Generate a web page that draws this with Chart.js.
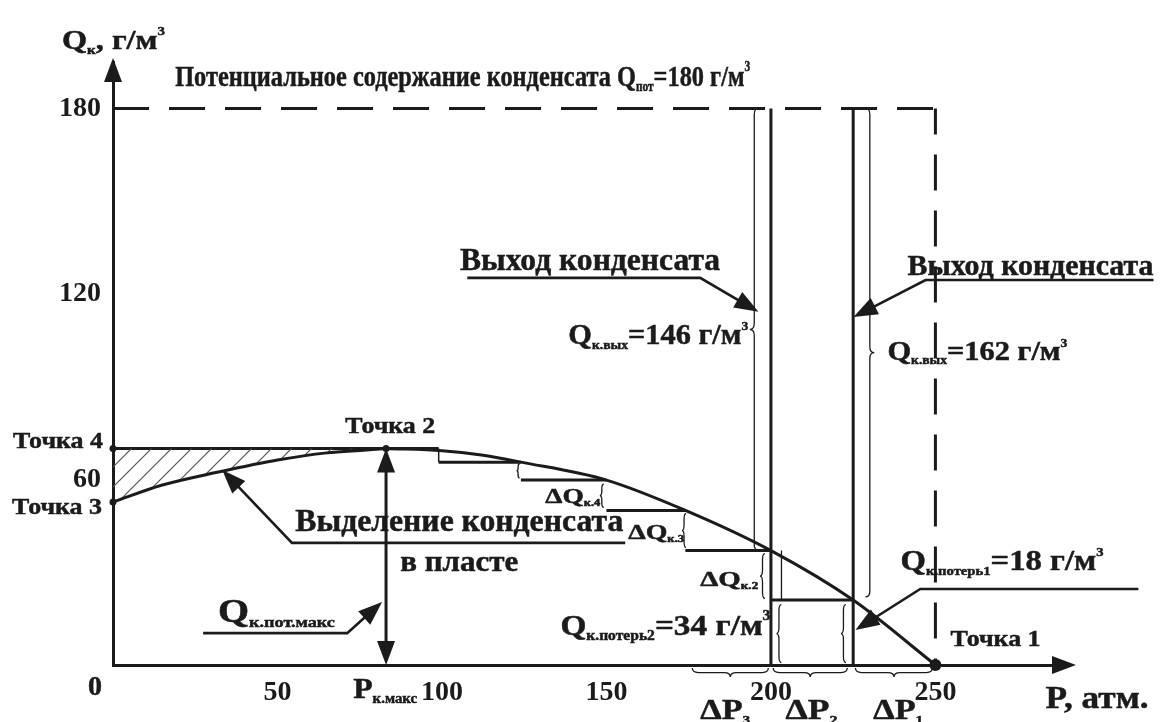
<!DOCTYPE html>
<html>
<head>
<meta charset="utf-8">
<script src="https://cdn.jsdelivr.net/npm/chart.js@4.4.1/dist/chart.umd.min.js"></script>
<style>
html, body { margin: 0; padding: 0; background: #fff; }
#wrap { width: 1171px; height: 722px; }
</style>
</head>
<body>
<div id="wrap"><canvas id="chart"></canvas></div>
<script>
// кривая Qк(P): левая ветвь до Точки 2 и правая ветвь до Точки 1
var leftP = [0, 15, 32, 50, 65, 77, 83];
var leftQ = [52.7, 58.2, 62.4, 66.3, 68.6, 69.5, 70];
var rightP = [83, 100, 112, 124, 150, 174, 200, 225, 250];
var rightQ = [70, 69.3, 67.9, 65.6, 59.8, 50, 37, 21, 0];

// ступени ΔQ
var stepFrom = [99, 124, 150, 174, 200];
var stepTo = [124, 150, 174, 200, 225];
var stepQ = [65.6, 59.8, 50, 37, 21];

// Точка 1, 2, 3, 4
var pointP = [250, 83, 0, 0];
var pointQ = [0, 70, 52.7, 70];

var qPot = 180, pDew = 250, pStepA = 200, pStepB = 225, pMax = 83, qMax = 70;

var xTicks = [50, 100, 150, 200, 250];
var yTicks = [60, 120, 180];

var INK = '#1b1b1b';
var FONT = '"Liberation Serif", "Times New Roman", serif';

function xy(ps, qs) {
  return ps.map(function (p, i) { return { x: p, y: qs[i] }; });
}

var steps = [];
for (var i = 0; i < stepQ.length; i++) {
  steps.push({ x: stepFrom[i], y: stepQ[i] });
  steps.push({ x: stepTo[i], y: stepQ[i] });
  steps.push({ x: stepTo[i], y: null });
}

// штриховка
var hatchCanvas = document.createElement('canvas');
hatchCanvas.width = 20; hatchCanvas.height = 20;
var hc = hatchCanvas.getContext('2d');
hc.strokeStyle = '#555';
hc.lineWidth = 1.2;
[[0, 20, 20, 0], [-10, 10, 10, -10], [10, 30, 30, 10]].forEach(function (l) {
  hc.beginPath(); hc.moveTo(l[0], l[1]); hc.lineTo(l[2], l[3]); hc.stroke();
});
var hatch = hc.createPattern(hatchCanvas, 'repeat');

// подписи: текст (_{} нижний индекс, ^{} верхний), P, Q, ширина, кегль
var labels = [
  ['Q_{к}, г/м^{3}', -15.5, 201.5, 103, 28],
  ['Потенциальное содержание конденсата Q_{пот}=180 г/м^{3}', 18.9, 189.8, 575, 30],
  ['Выход конденсата', 105.5, 130.3, 260, 31],
  ['Q_{к.вых}=146 г/м^{3}', 138.4, 106.1, 180, 29],
  ['Выход конденсата', 241.5, 128.7, 246, 30],
  ['Q_{к.вых}=162 г/м^{3}', 235.4, 100.9, 180, 27],
  ['Q_{к.потерь1}=18 г/м^{3}', 239.4, 33.0, 203, 29],
  ['Точка 1', 254.6, 8.1, 90, 23],
  ['Q_{к.потерь2}=34 г/м^{3}', 136.0, 12.3, 210, 30],
  ['ΔQ_{к.4}', 131.4, 54.3, 55, 22],
  ['ΔQ_{к.3}', 156.6, 42.7, 56, 22],
  ['ΔQ_{к.2}', 178.5, 27.5, 58, 22],
  ['Выделение конденсата', 55.4, 45.9, 328, 31],
  ['в пласте', 87.3, 33.0, 118, 30],
  ['Q_{к.пот.макс}', 31.9, 16.8, 117, 33],
  ['Точка 2', 70.6, 77.0, 90, 24],
  ['Точка 4', -30.4, 72.1, 90, 24],
  ['Точка 3', -30.7, 50.8, 90, 24],
  ['0', -7.6, -7.4, 14, 28],
  ['P_{к.макс}', 73.0, -8.1, 64, 30],
  ['ΔP_{3}', 178.5, -15.2, 50, 29],
  ['ΔP_{2}', 204.4, -15.2, 52, 29],
  ['ΔP_{1}', 231.1, -15.2, 50, 29],
  ['P, атм.', 283.5, -11.3, 103, 32]
];

// стрелки-выноски: ломаная, последняя точка - остриё
var pointers = [
  [[107.7, 125.2], [178.5, 125.2], [196.2, 114.2]],
  [[316.3, 124.5], [247, 124.5], [225.1, 112.5]],
  [[311.7, 24.6], [245.4, 24.6], [225.7, 11.3]],
  [[155.7, 39.5], [54.4, 39.5], [33.2, 63.1]],
  [[27.4, 10.3], [71.2, 10.3], [81.8, 20.4]]
];

// фигурные скобки: P1, Q1, P2, Q2, выгиб (px)
var braces = [
  [196.3, 180, 196.3, 37, 9],
  [228.7, 180, 228.7, 22, -9],
  [123.6, 65, 123.6, 60.5, 3],
  [149.2, 58.5, 149.2, 51, 4],
  [174.2, 49, 174.2, 38, 4],
  [198.2, 36, 198.2, 21.5, 5],
  [203.2, 19.5, 203.2, 0.8, 5],
  [222.8, 19.5, 222.8, 0.8, 5],
  [176.1, -1, 199.2, -1, 9],
  [200.7, -1, 223.2, -1, 9],
  [225.7, -1, 249.1, -1, 9]
];

function parseRich(s) {
  var out = [];
  s.split(/(_\{[^}]*\}|\^\{[^}]*\})/).forEach(function (t) {
    if (!t) return;
    if (t[0] === '_') out.push([t.slice(2, -1), 'sub']);
    else if (t[0] === '^') out.push([t.slice(2, -1), 'sup']);
    else out.push([t, '']);
  });
  return out;
}

// текст заданного кегля, сжатый/растянутый по ширине
function drawRich(ctx, s, x, y, width, size) {
  var parts = parseRich(s);
  function fontFor(mode) { return 'bold ' + Math.round(mode ? size * 0.45 : size) + 'px ' + FONT; }
  var w = 0;
  parts.forEach(function (p) { ctx.font = fontFor(p[1]); w += ctx.measureText(p[0]).width; });
  var k = width / w;
  ctx.save();
  ctx.translate(x, y);
  ctx.scale(k, 1);
  ctx.textBaseline = 'middle';
  ctx.textAlign = 'left';
  ctx.lineWidth = 0.5;
  var cx = 0;
  parts.forEach(function (p) {
    ctx.font = fontFor(p[1]);
    var dy = p[1] === 'sub' ? size * 0.3 : (p[1] === 'sup' ? -size * 0.35 : 0);
    ctx.fillText(p[0], cx, dy);
    ctx.strokeText(p[0], cx, dy);
    cx += ctx.measureText(p[0]).width;
  });
  ctx.restore();
}

function head(ctx, x1, y1, x2, y2, len, half) {
  var a = Math.atan2(y2 - y1, x2 - x1);
  var c = Math.cos(a), s = Math.sin(a);
  ctx.beginPath();
  ctx.moveTo(x2, y2);
  ctx.lineTo(x2 - len * c + half * s, y2 - len * s - half * c);
  ctx.lineTo(x2 - len * c - half * s, y2 - len * s + half * c);
  ctx.closePath();
  ctx.fill();
}

function brace(ctx, x1, y1, x2, y2, depth) {
  var len = Math.hypot(x2 - x1, y2 - y1);
  var dx = (x2 - x1) / len, dy = (y2 - y1) / len;
  var nx = -dy * depth, ny = dx * depth;
  var w = Math.min(6, len / 5);
  var mx = (x1 + x2) / 2, my = (y1 + y2) / 2;
  ctx.beginPath();
  ctx.moveTo(x1, y1);
  ctx.quadraticCurveTo(x1 + nx / 2, y1 + ny / 2, x1 + nx / 2 + dx * w, y1 + ny / 2 + dy * w);
  ctx.lineTo(mx + nx / 2 - dx * w, my + ny / 2 - dy * w);
  ctx.quadraticCurveTo(mx + nx / 2, my + ny / 2, mx + nx, my + ny);
  ctx.quadraticCurveTo(mx + nx / 2, my + ny / 2, mx + nx / 2 + dx * w, my + ny / 2 + dy * w);
  ctx.lineTo(x2 + nx / 2 - dx * w, y2 + ny / 2 - dy * w);
  ctx.quadraticCurveTo(x2 + nx / 2, y2 + ny / 2, x2, y2);
  ctx.stroke();
}

var annotations = {
  id: 'annotations',
  afterDraw: function (chart) {
    var ctx = chart.ctx, xs = chart.scales.x, ys = chart.scales.y;
    function X(p) { return xs.getPixelForValue(p); }
    function Y(q) { return ys.getPixelForValue(q); }
    ctx.save();
    ctx.fillStyle = INK;
    ctx.strokeStyle = INK;

    // стрелки осей
    var left = chart.chartArea.left, bottom = chart.chartArea.bottom;
    head(ctx, left, bottom, left, chart.chartArea.top - 4, 24, 9);
    head(ctx, left, bottom, chart.chartArea.right + 9, bottom, 24, 9);

    // скобки
    ctx.lineWidth = 1.3;
    braces.forEach(function (b) { brace(ctx, X(b[0]), Y(b[1]), X(b[2]), Y(b[3]), b[4]); });

    // выноски
    ctx.lineWidth = 2.6;
    pointers.forEach(function (pl) {
      var pts = pl.map(function (p) { return [X(p[0]), Y(p[1])]; });
      var n = pts.length;
      var a = pts[n - 2], b = pts[n - 1];
      var L = Math.hypot(b[0] - a[0], b[1] - a[1]);
      var stop = [b[0] - (b[0] - a[0]) * 16 / L, b[1] - (b[1] - a[1]) * 16 / L];
      ctx.beginPath();
      ctx.moveTo(pts[0][0], pts[0][1]);
      for (var k = 1; k < n - 1; k++) ctx.lineTo(pts[k][0], pts[k][1]);
      ctx.lineTo(stop[0], stop[1]);
      ctx.stroke();
      head(ctx, a[0], a[1], b[0], b[1], 24, 9);
    });

    // двусторонняя стрелка Qк.пот.макс
    ctx.lineWidth = 3;
    var x0 = X(pMax), yt = Y(qMax), yb = Y(0);
    ctx.beginPath(); ctx.moveTo(x0, yt + 16); ctx.lineTo(x0, yb - 16); ctx.stroke();
    head(ctx, x0, yb, x0, yt, 24, 9);
    head(ctx, x0, yt, x0, yb, 24, 9);

    // подписи
    labels.forEach(function (l) { drawRich(ctx, l[0], X(l[1]), Y(l[2]), l[3], l[4]); });
    ctx.restore();
  }
};

var line = { showLine: true, pointRadius: 0, borderColor: INK, borderWidth: 3, fill: false, clip: false };
function ds(extra) { return Object.assign({}, line, extra); }

var tickFont = { family: FONT, size: 28, weight: 'bold' };

function draw() {
  new Chart(document.getElementById('chart'), {
    type: 'line',
    data: {
      datasets: [
        ds({ data: xy(leftP, leftQ), cubicInterpolationMode: 'monotone', fill: { value: qMax }, backgroundColor: hatch }),
        ds({ data: xy(rightP, rightQ), cubicInterpolationMode: 'monotone' }),
        ds({ data: [{ x: 0, y: qMax }, { x: stepFrom[0], y: qMax }] }),
        ds({ data: steps, spanGaps: false }),
        ds({ data: [{ x: stepFrom[0], y: qMax }, { x: stepFrom[0], y: stepQ[0] }], borderWidth: 1.5 }),
        ds({ data: [{ x: pStepA, y: 0 }, { x: pStepA, y: qPot }] }),
        ds({ data: [{ x: pStepB, y: 0 }, { x: pStepB, y: qPot }] }),
        ds({ data: [{ x: 203.2, y: stepQ[3] }, { x: 203.2, y: stepQ[4] }], borderWidth: 1.3 }),
        ds({ data: [{ x: 0, y: qPot }, { x: pDew, y: qPot }], borderDash: [36, 20] }),
        ds({ data: [{ x: pDew, y: qPot }, { x: pDew, y: 0 }], borderDash: [36, 20], borderDashOffset: 10 }),
        ds({ data: xy(pointP, pointQ), showLine: false, pointRadius: [6, 3.5, 3.5, 3.5], pointBackgroundColor: INK, pointBorderWidth: 0 })
      ]
    },
    options: {
      responsive: true,
      maintainAspectRatio: false,
      animation: false,
      layout: { padding: { left: 0, top: 62, right: 104, bottom: 0 } },
      plugins: { legend: { display: false }, tooltip: { enabled: false } },
      scales: {
        x: {
          type: 'linear', min: 0, max: 290,
          grid: { display: false, drawTicks: false },
          border: { display: true, color: INK, width: 3 },
          ticks: { color: INK, padding: 11, maxRotation: 0, autoSkip: false, font: tickFont },
          afterBuildTicks: function (s) { s.ticks = xTicks.map(function (v) { return { value: v }; }); },
          afterFit: function (s) { s.height = 57; }
        },
        y: {
          type: 'linear', min: 0, max: 195,
          grid: { display: false, drawTicks: false },
          border: { display: true, color: INK, width: 3 },
          ticks: { color: INK, padding: 12, font: tickFont },
          afterBuildTicks: function (s) { s.ticks = yTicks.map(function (v) { return { value: v }; }); },
          afterFit: function (s) { s.width = 113; }
        }
      }
    },
    plugins: [annotations]
  });
}

if (document.fonts && document.fonts.load) {
  document.fonts.load('bold 28px "Liberation Serif"', 'Выход 180').then(draw, draw);
} else {
  draw();
}
</script>
</body>
</html>
